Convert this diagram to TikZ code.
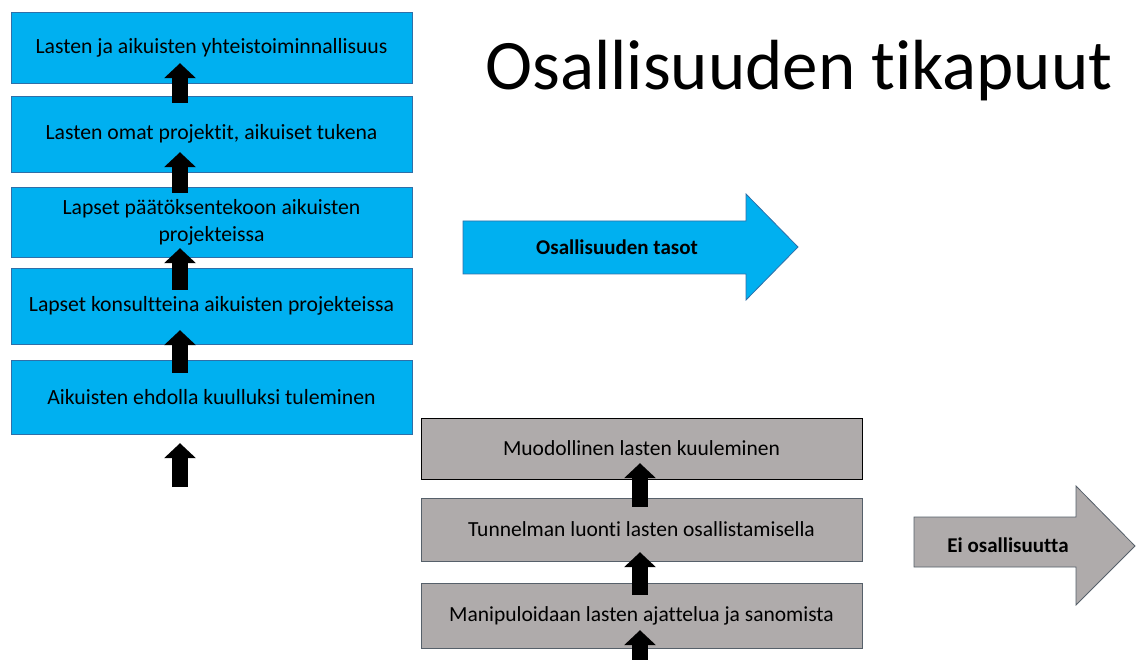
\documentclass[tikz,border=0pt]{standalone}
\usepackage{fontspec}
\setmainfont{Carlito}[Ligatures={NoCommon,NoContextual}]
\usetikzlibrary{arrows.meta,calc,positioning}
\definecolor{skyblue}{HTML}{00B0F0}
\definecolor{skyline}{HTML}{2F6FA8}
\definecolor{stone}{HTML}{AFABAB}
\definecolor{stoneline}{HTML}{56606A}

\begin{document}
\begin{tikzpicture}[x=1pt,y=-1pt,
    level/.style={draw=skyline, fill=skyblue, minimum width=401pt, inner sep=0pt,
        align=center, font=\fontsize{21.7}{27}\selectfont},
    nolevel/.style={draw=stoneline, fill=stone, minimum width=441pt, inner sep=0pt,
        align=center, font=\fontsize{21.5}{26}\selectfont},
    uparrow/.style={line width=16pt, black, -{Triangle[width=31pt,length=15pt]}},
    bigarrow/.style={draw=skyline, line width=0.8pt},
    arrowtext/.style={font=\bfseries\fontsize{21}{24}\selectfont}]
\useasboundingbox (0,0) rectangle (1136,660);

% tasot
\node[level, minimum height=71pt] (b1) at (211.5,47.5) {Lasten ja aikuisten yhteistoiminnallisuus};
\node[level, minimum height=76pt] (b2) at (211.5,134) {Lasten omat projektit, aikuiset tukena};
\node[level, minimum height=70pt] (b3) at (211.5,222) {Lapset päätöksentekoon aikuisten\\projekteissa};
\node[level, minimum height=76pt] (b4) at (211.5,306) {Lapset konsultteina aikuisten projekteissa};
\node[level, minimum height=74pt] (b5) at (211.5,397) {Aikuisten ehdolla kuulluksi tuleminen};

% ei osallisuutta
\node[nolevel, draw=black, minimum height=61pt] (g1) at (641.5,448.5) {Muodollinen lasten kuuleminen};
\node[nolevel, minimum height=63pt] (g2) at (641.5,529.5) {Tunnelman luonti lasten osallistamisella};
\node[nolevel, minimum height=65pt] (g3) at (641.5,615.5) {Manipuloidaan lasten ajattelua ja sanomista};

\coordinate (ax) at (180,0);
\coordinate (gx) at (640,0);
\coordinate (a0) at (180,487);
\coordinate (g0) at (640,664);

\foreach \from/\to/\s/\e in {b2/b1/7/20, b3/b2/6/20, b4/b3/22/9, b5/b4/13/14}
    \draw [uparrow, shorten <=-\s pt, shorten >=-\e pt] (\from.north -| ax) -- (\to.south -| ax);
\draw [uparrow, shorten >=9pt] (a0) -- (b5.south -| ax);

\foreach \from/\to/\s/\e in {g2/g1/9/16, g3/g2/12/9}
    \draw [uparrow, shorten <=-\s pt, shorten >=-\e pt] (\from.north -| gx) -- (\to.south -| gx);
\draw [uparrow, shorten >=-18pt] (g0) -- (g3.south -| gx);

% otsikko ja nuolet
\node[anchor=base, font=\fontsize{71}{76}\selectfont] (title) at (799,90) {Osallisuuden tikapuut};

\draw[bigarrow, fill=skyblue] (463,221) -- (746,221) -- (746,194) -- (798,247)
    -- (746,300) -- (746,274) -- (463,274) -- cycle;
\node[arrowtext] (tasot) at (617,247) {Osallisuuden tasot};

\draw[bigarrow, draw=stoneline, fill=stone] (914,517) -- (1076,517) -- (1076,486) -- (1135,546)
    -- (1076,605) -- (1076,567) -- (914,567) -- cycle;
\node[arrowtext] (eiosa) at (1008,545) {Ei osallisuutta};
\end{tikzpicture}
\end{document}
